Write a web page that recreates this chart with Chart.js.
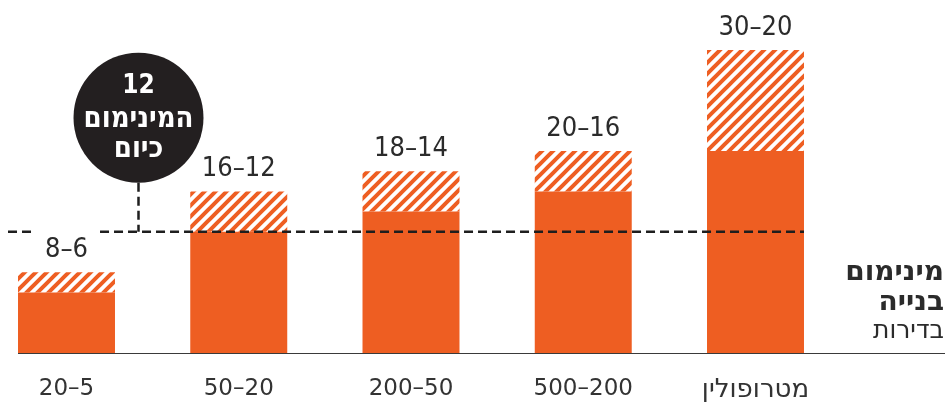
<!DOCTYPE html>
<html lang="he">
<head>
<meta charset="utf-8">
<title>מינימום בנייה בדירות</title>
<script src="https://cdn.jsdelivr.net/npm/chart.js@4/dist/chart.umd.min.js"></script>
<style>
  html, body { margin: 0; padding: 0; background: #fff; }
  #wrap { position: relative; width: 946px; height: 405px; }
</style>
</head>
<body>
<div id="wrap"><canvas id="chart" width="946" height="405"></canvas></div>
<script>
// Settlement size groups (thousands of residents) and the building minimum per group
const categories = ['20–5', '50–20', '200–50', '500–200', 'מטרופולין'];
const minUnits = [6, 12, 14, 16, 20];
const maxUnits = [8, 16, 18, 20, 30];
const currentMinimum = 12;
const circleLines = ['12', 'המינימום', 'כיום'];
const sideTitle = ['מינימום', 'בנייה'];
const sideUnit = 'בדירות';

const ORANGE = '#EE5E22';
const INK = '#2b2b2b';
const COND = '"DejaVu Sans Condensed", "DejaVu Sans", sans-serif';
const WIDE = '"DejaVu Sans", sans-serif';
const isHebrew = s => /[\u0590-\u05FF]/.test(s);

// Diagonal orange/white stripes for the upper part of the range
function stripes() {
  const s = 11;
  const c = document.createElement('canvas');
  c.width = s; c.height = s;
  const g = c.getContext('2d');
  g.fillStyle = '#fff';
  g.fillRect(0, 0, s, s);
  g.strokeStyle = ORANGE;
  g.lineWidth = 4;
  g.beginPath();
  g.moveTo(-2, 2); g.lineTo(2, -2);
  g.moveTo(0, s); g.lineTo(s, 0);
  g.moveTo(s - 2, s + 2); g.lineTo(s + 2, s - 2);
  g.stroke();
  return g.createPattern(c, 'repeat');
}

const rangeText = i => `${maxUnits[i]}–${minUnits[i]}`;

const annotations = {
  id: 'annotations',
  afterDatasetsDraw(chart) {
    const ctx = chart.ctx;
    const xs = chart.scales.x, ys = chart.scales.y;
    const meta = chart.getDatasetMeta(0);
    const firstBar = meta.data[0];
    const lastBar = meta.data[meta.data.length - 1];
    const barLeft = firstBar.x - firstBar.width / 2;
    const barRight = lastBar.x + lastBar.width / 2;
    const y0 = ys.getPixelForValue(0);
    const yMin = ys.getPixelForValue(currentMinimum);

    ctx.save();

    // baseline
    ctx.strokeStyle = '#3a3a3a';
    ctx.lineWidth = 1.2;
    ctx.beginPath();
    ctx.moveTo(barLeft, y0 + 0.5);
    ctx.lineTo(chart.width - 1, y0 + 0.5);
    ctx.stroke();

    // range labels above the bars
    ctx.fillStyle = INK;
    ctx.font = `27px ${COND}`;
    ctx.textAlign = 'center';
    ctx.textBaseline = 'middle';
    const rangeMeta = chart.getDatasetMeta(1);
    rangeMeta.data.forEach((bar, i) => {
      ctx.fillText(rangeText(i), bar.x, bar.y - 22);
    });

    // dashed line of today's minimum, broken around the first label
    const gapHalf = ctx.measureText(rangeText(0)).width / 2 + 12;
    ctx.strokeStyle = '#1e1e1e';
    ctx.lineWidth = 2.5;
    ctx.setLineDash([9, 5]);
    ctx.beginPath();
    ctx.moveTo(barLeft - 10, yMin);
    ctx.lineTo(firstBar.x - gapHalf, yMin);
    ctx.moveTo(firstBar.x + gapHalf, yMin);
    ctx.lineTo(barRight, yMin);
    ctx.stroke();

    // callout circle with its connector
    const cx = xs.getPixelForValue(0) + 0.418 * (xs.getPixelForValue(1) - xs.getPixelForValue(0));
    const r = 65;
    const cy = ys.getPixelForValue(23.3);
    ctx.beginPath();
    ctx.moveTo(cx, cy + r);
    ctx.lineTo(cx, yMin);
    ctx.stroke();
    ctx.setLineDash([]);

    ctx.fillStyle = '#231f20';
    ctx.beginPath();
    ctx.arc(cx, cy, r, 0, Math.PI * 2);
    ctx.fill();

    ctx.fillStyle = '#fff';
    ctx.font = `bold 26px ${COND}`;
    ctx.fillText(circleLines[0], cx, cy - 31);
    ctx.font = `bold 29px ${COND}`;
    ctx.fillText(circleLines[1], cx, cy + 2);
    ctx.fillText(circleLines[2], cx, cy + 32);

    // side caption
    ctx.fillStyle = INK;
    ctx.textAlign = 'right';
    ctx.font = `bold 28px ${WIDE}`;
    ctx.fillText(sideTitle[0], chart.width - 2, 273);
    ctx.fillText(sideTitle[1], chart.width - 2, 303);
    ctx.font = `25px ${WIDE}`;
    ctx.fillText(sideUnit, chart.width - 2, 331);

    ctx.restore();
  }
};

const ctx = document.getElementById('chart').getContext('2d');
new Chart(ctx, {
  type: 'bar',
  data: {
    labels: categories,
    datasets: [
      {
        label: 'מינימום',
        data: minUnits,
        backgroundColor: ORANGE,
        borderWidth: 0,
        grouped: false,
        clip: false,
        barPercentage: 0.563,
        categoryPercentage: 1
      },
      {
        label: 'טווח',
        data: minUnits.map((m, i) => [m, maxUnits[i]]),
        backgroundColor: stripes(),
        borderWidth: 0,
        grouped: false,
        clip: false,
        barPercentage: 0.563,
        categoryPercentage: 1
      }
    ]
  },
  options: {
    responsive: false,
    animation: false,
    layout: { padding: { left: 66.5, right: 190.5, top: 50, bottom: 0 } },
    plugins: { legend: { display: false }, tooltip: { enabled: false } },
    scales: {
      x: {
        offset: false,
        grid: { display: false, drawTicks: false },
        border: { display: false },
        ticks: {
          color: '#333',
          font: c => ({ family: WIDE, size: isHebrew(categories[c.index] || '') ? 26 : 23 }),
          padding: 22,
          maxRotation: 0,
          autoSkip: false
        },
        afterFit(scale) { scale.height = 52; }
      },
      y: {
        display: false,
        min: 0,
        max: 30
      }
    }
  },
  plugins: [annotations]
});
</script>
</body>
</html>
